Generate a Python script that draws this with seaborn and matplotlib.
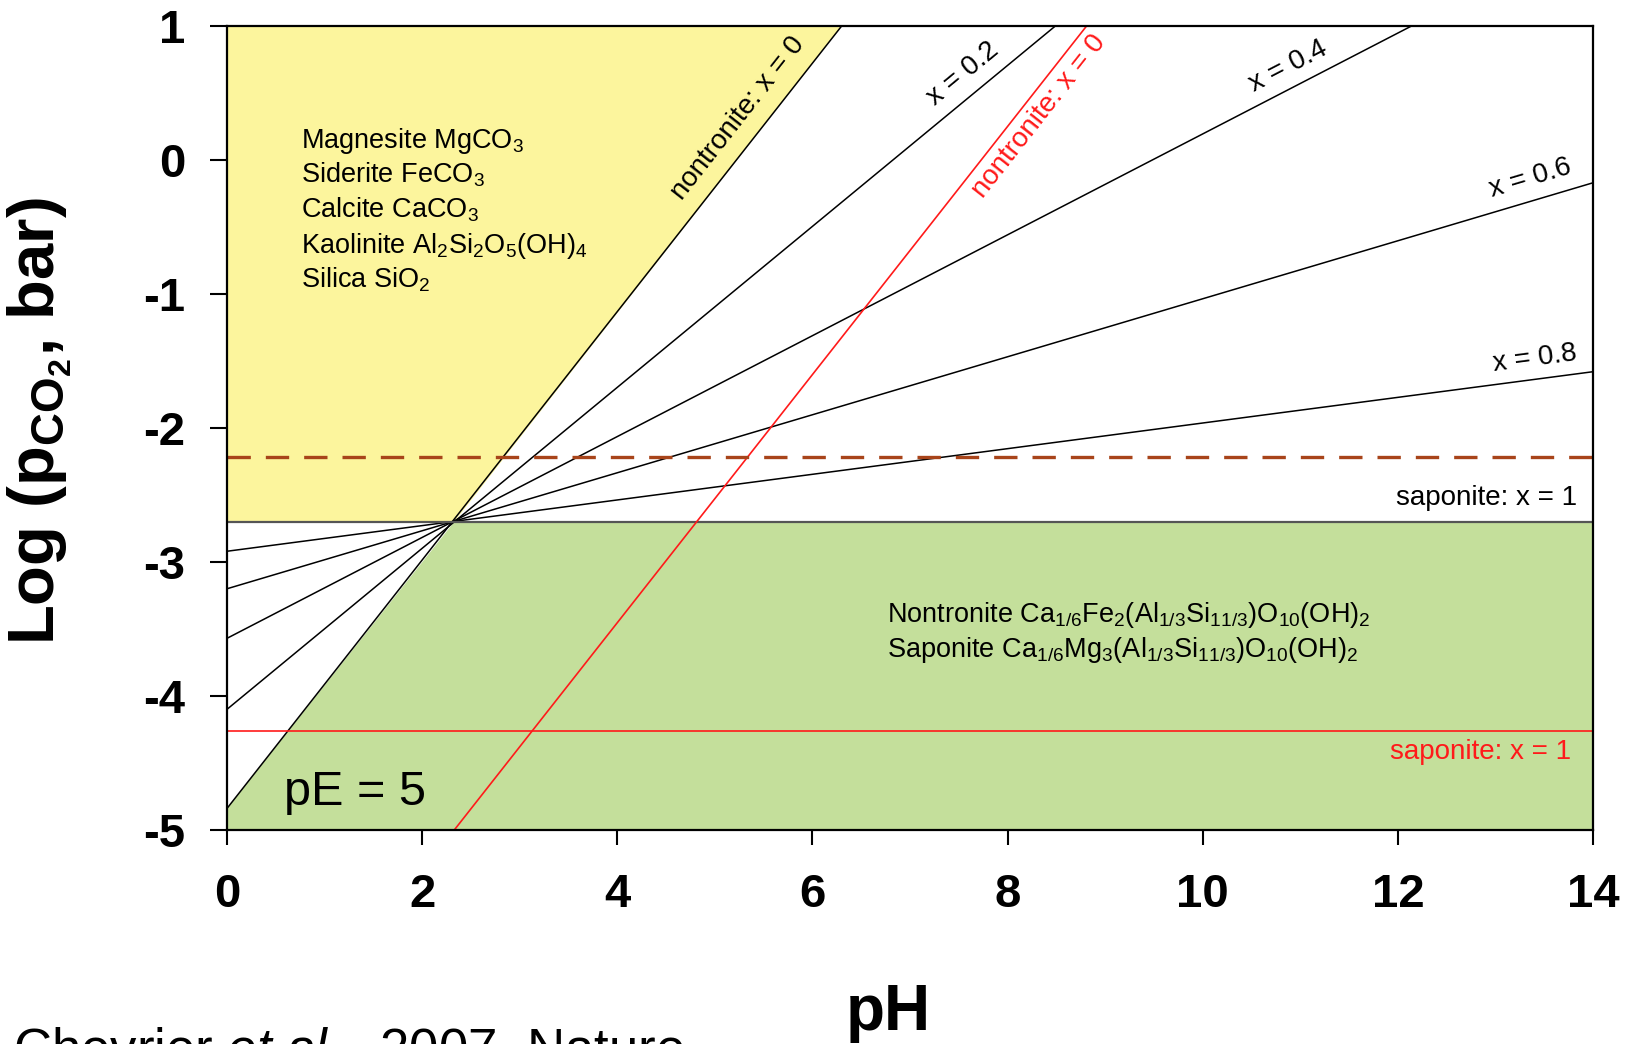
import numpy as np
import pandas as pd
import matplotlib
matplotlib.use("Agg")
import matplotlib.pyplot as plt
import seaborn as sns

# ========== DATA ==========
ph_limits = [0, 14]
logp_limits = [-5, 1]
x_ticks = [0, 2, 4, 6, 8, 10, 12, 14]
y_ticks = [-5, -4, -3, -2, -1, 0, 1]

# junction where all clay lines meet
junction = (2.33, -2.70)

# black clay/carbonate boundaries (start, end) for each x
black_names = ["nontronite: x = 0", "x = 0.2", "x = 0.4", "x = 0.6", "x = 0.8", "saponite: x = 1"]
black_start = [(0, -4.84), (0, -4.10), (0, -3.57), (0, -3.20), (0, -2.92), (0, -2.70)]
black_end = [(6.30, 1.0), (8.49, 1.0), (12.14, 1.0), (14, -0.17), (14, -1.58), (14, -2.70)]

# red boundaries
red_names = ["nontronite: x = 0", "saponite: x = 1"]
red_start = [(2.33, -5.0), (0, -4.26)]
red_end = [(8.81, 1.0), (14, -4.26)]

# brown dashed level
dashed_logp = -2.22

carbonate_lines = ["Magnesite MgCO$_3$", "Siderite FeCO$_3$", "Calcite CaCO$_3$",
                   "Kaolinite Al$_2$Si$_2$O$_5$(OH)$_4$", "Silica SiO$_2$"]
clay_lines = ["Nontronite Ca$_{1/6}$Fe$_2$(Al$_{1/3}$Si$_{11/3}$)O$_{10}$(OH)$_2$",
              "Saponite Ca$_{1/6}$Mg$_3$(Al$_{1/3}$Si$_{11/3}$)O$_{10}$(OH)$_2$"]

# ========== STYLE ==========
sns.set_theme(style="ticks")
plt.rcParams["font.family"] = ["Liberation Sans", "DejaVu Sans"]
plt.rcParams["mathtext.fontset"] = "custom"
plt.rcParams["mathtext.rm"] = "Liberation Sans"
plt.rcParams["mathtext.it"] = "Liberation Sans:italic"
plt.rcParams["mathtext.bf"] = "Liberation Sans:bold"
plt.rcParams["mathtext.default"] = "regular"
plt.rcParams["axes.unicode_minus"] = False
plt.rcParams["text.color"] = "black"
plt.rcParams["axes.labelcolor"] = "black"
plt.rcParams["xtick.color"] = "black"
plt.rcParams["ytick.color"] = "black"

yellow = "#fcf59d"
green = "#c4df9b"
red = "#ff1a1a"
brown = "#a8441a"

fig = plt.figure(figsize=(16.29, 10.44), dpi=100)
ax = fig.add_axes([0.1393, 0.2050, 0.8386, 0.7701])
ax.set_xlim(ph_limits)
ax.set_ylim(logp_limits)

# ========== REGIONS ==========
x0_top = black_end[0]
x0_left = black_start[0]
ax.fill([0, 0, x0_top[0], junction[0]], [junction[1], logp_limits[1], x0_top[1], junction[1]],
        color=yellow, lw=0, zorder=0)
ax.fill([0, 0, junction[0], ph_limits[1], ph_limits[1]],
        [logp_limits[0], x0_left[1], junction[1], junction[1], logp_limits[0]],
        color=green, lw=0, zorder=0)

# ========== LINES ==========
def to_frame(names, starts, ends):
    rows = []
    for n, s, e in zip(names, starts, ends):
        rows.append({"line": n, "ph": s[0], "logp": s[1]})
        rows.append({"line": n, "ph": e[0], "logp": e[1]})
    return pd.DataFrame(rows)

black_df = to_frame(black_names, black_start, black_end)
red_df = to_frame(red_names, red_start, red_end)

sns.lineplot(data=black_df[black_df.line != "saponite: x = 1"], x="ph", y="logp", units="line",
             estimator=None, color="black", lw=1.1, ax=ax, zorder=2)
sns.lineplot(data=black_df[black_df.line == "saponite: x = 1"], x="ph", y="logp",
             estimator=None, color="#555555", lw=1.6, ax=ax, zorder=2)
sns.lineplot(data=red_df, x="ph", y="logp", units="line", estimator=None,
             color=red, lw=1.2, ax=ax, zorder=3)
sns.lineplot(x=ph_limits, y=[dashed_logp, dashed_logp], color=brown, lw=2.4,
             dashes=False, ax=ax, zorder=3).lines[-1].set_dashes([7, 4.5])


def angle_of(start, end):
    p0 = ax.transData.transform(start)
    p1 = ax.transData.transform(end)
    return np.degrees(np.arctan2(p1[1] - p0[1], p1[0] - p0[0]))

# ========== LABELS ==========
black_label_pos = {"nontronite: x = 0": (5.24, 0.31), "x = 0.2": (7.54, 0.64),
                   "x = 0.4": (10.88, 0.70), "x = 0.6": (13.36, -0.14), "x = 0.8": (13.40, -1.48)}
for n, s, e in zip(black_names, black_start, black_end):
    if n in black_label_pos:
        ax.text(*black_label_pos[n], n, rotation=angle_of(s, e), rotation_mode="anchor",
                ha="center", va="center", fontsize=20, color="black", zorder=5)
ax.text(13.84, -2.575, "saponite: x = 1", ha="right", va="baseline", fontsize=20, zorder=5)

ax.text(8.32, 0.33, red_names[0], rotation=angle_of(red_start[0], red_end[0]),
        rotation_mode="anchor", ha="center", va="center", fontsize=20, color=red, zorder=5)
ax.text(13.78, -4.47, red_names[1], ha="right", va="baseline", fontsize=20, color=red, zorder=5)

for i, t in enumerate(carbonate_lines):
    ax.text(0.76, 0.09 - 0.261 * i, t, ha="left", va="baseline", fontsize=19.5, zorder=5)
for i, t in enumerate(clay_lines):
    ax.text(6.76, -3.448 - 0.261 * i, t, ha="left", va="baseline", fontsize=19.5, zorder=5)

ax.text(0.58, -4.81, "pE = 5", ha="left", va="baseline", fontsize=35, zorder=5)

# ========== AXES ==========
ax.set_xticks(x_ticks)
ax.set_yticks(y_ticks)
ax.set_xticklabels([str(v) for v in x_ticks], fontsize=34, fontweight="bold")
ax.set_yticklabels([str(v) for v in y_ticks], fontsize=34, fontweight="bold")
ax.tick_params(axis="x", direction="out", length=11, width=1.5, pad=20, color="black")
ax.tick_params(axis="y", direction="out", length=12, width=1.5, pad=18, color="black")
for sp in ax.spines.values():
    sp.set_visible(True)
    sp.set_linewidth(1.6)
    sp.set_color("black")
    sp.set_zorder(6)

ax.set_xlabel("pH", fontsize=46, fontweight="bold", va="baseline")
ax.xaxis.set_label_coords(0.484, -0.249)
ax.set_ylabel(r"Log (p$_{\mathbf{CO_2}}$, bar)", fontsize=47, fontweight="bold", va="center")
ax.yaxis.set_label_coords(-0.137, 0.508)

fig.text(0.008, -0.021, r"Chevrier $\mathit{et\ al.}$, 2007, Nature", fontsize=38,
         ha="left", va="baseline")

fig.savefig("out.png", dpi=100)
